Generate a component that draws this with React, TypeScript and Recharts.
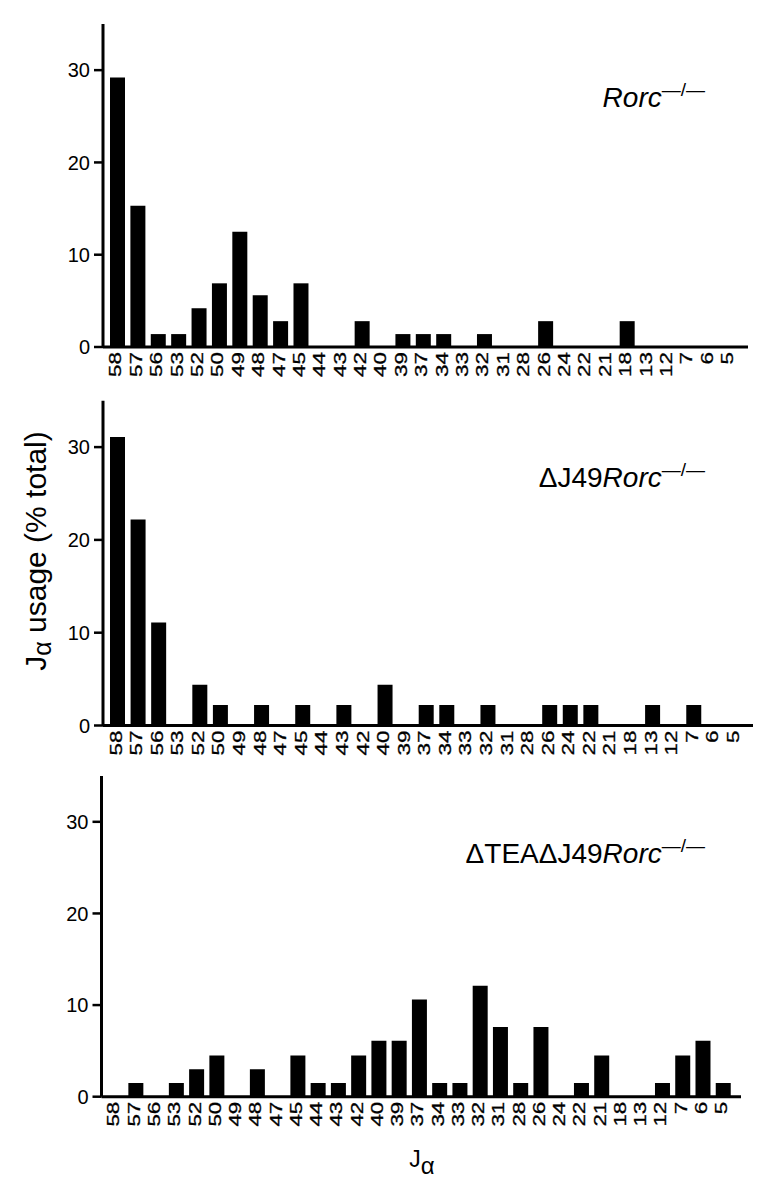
import React from "react";
import { BarChart, Bar, XAxis, YAxis } from "recharts";

const categories = ["58","57","56","53","52","50","49","48","47","45","44","43","42","40","39","37","34","33","32","31","28","26","24","22","21","18","13","12","7","6","5"];

const rorcValues = [29.2,15.3,1.4,1.4,4.2,6.9,12.5,5.6,2.8,6.9,0,0,2.8,0,1.4,1.4,1.4,0,1.4,0,0,2.8,0,0,0,2.8,0,0,0,0,0];
const dJ49Values = [31.1,22.2,11.1,0,4.4,2.2,0,2.2,0,2.2,0,2.2,0,4.4,0,2.2,2.2,0,2.2,0,0,2.2,2.2,2.2,0,0,2.2,0,2.2,0,0];
const dTEAValues = [0,1.5,0,1.5,3.0,4.5,0,3.0,0,4.5,1.5,1.5,4.5,6.1,6.1,10.6,1.5,1.5,12.1,7.6,1.5,7.6,0,1.5,4.5,0,0,1.5,4.5,6.1,1.5];

const yTicks = [0, 10, 20, 30];

const build = (vals: number[]) => categories.map((j, i) => ({ j, v: vals[i] }));

const FONT = "'Liberation Sans', Arial, Helvetica, sans-serif";

const XTick = (props: any) => {
  const { x, y, payload } = props;
  return (
    <text
      transform={`translate(${x - 1.5},${y + 5}) rotate(-90) scale(1.4,1)`}
      textAnchor="end"
      dominantBaseline="central"
      fontFamily={FONT}
      fontSize={16}
      fill="#000"
      stroke="#000"
      strokeWidth={0.3}
    >
      {payload.value}
    </text>
  );
};

type PanelProps = {
  vals: number[];
  top: number;
  height: number;
  marginTop: number;
  xAxisHeight: number;
  yWidth: number;
  marginRight: number;
  padL: number;
  padR: number;
};

const Panel = ({ vals, top, height, marginTop, xAxisHeight, yWidth, marginRight, padL, padR }: PanelProps) => (
  <div style={{ position: "absolute", left: 0, top, width: 784, height }}>
    <BarChart
      width={784}
      height={height}
      data={build(vals)}
      margin={{ top: marginTop, right: marginRight, bottom: 0, left: 0 }}
      barSize={15}
    >
      <XAxis
        dataKey="j"
        type="category"
        interval={0}
        height={xAxisHeight}
        padding={{ left: padL, right: padR }}
        axisLine={{ stroke: "#000", strokeWidth: 3 }}
        tickLine={false}
        tickSize={0}
        tickMargin={0}
        tick={<XTick />}
      />
      <YAxis
        type="number"
        domain={[0, 35]}
        ticks={yTicks}
        width={yWidth}
        allowDataOverflow
        axisLine={{ stroke: "#000", strokeWidth: 3 }}
        tickLine={{ stroke: "#000", strokeWidth: 2.5 }}
        tickSize={9}
        tickMargin={4}
        tick={{ fill: "#000", fontSize: 20, fontFamily: FONT }}
      />
      <Bar dataKey="v" fill="#000" isAnimationActive={false} />
    </BarChart>
  </div>
);

const Sup = () => (
  <tspan dy={-11} fontSize={19} fontStyle="normal">{"\u2014/\u2014"}</tspan>
);

export default function App() {
  return (
    <div style={{ position: "absolute", left: 0, top: 0, width: 784, height: 1190, background: "#fff", fontFamily: FONT }}>
      <Panel vals={rorcValues} top={0} height={390} marginTop={24} xAxisHeight={43} yWidth={103} marginRight={36} padL={4} padR={9} />
      <Panel vals={dJ49Values} top={390} height={380} marginTop={10.7} xAxisHeight={44.5} yWidth={103} marginRight={31} padL={4} padR={8} />
      <Panel vals={dTEAValues} top={770} height={400} marginTop={6} xAxisHeight={73.3} yWidth={101.5} marginRight={43} padL={3.6} padR={8} />
      <svg width={784} height={1190} style={{ position: "absolute", left: 0, top: 0, pointerEvents: "none" }}>
        <text x={705} y={107} textAnchor="end" fontFamily={FONT} fontSize={28} fill="#000">
          <tspan fontStyle="italic">Rorc</tspan>
          <Sup />
        </text>
        <text x={705} y={487} textAnchor="end" fontFamily={FONT} fontSize={28} fill="#000">
          <tspan>{"\u0394J49"}</tspan>
          <tspan fontStyle="italic">Rorc</tspan>
          <Sup />
        </text>
        <text x={705} y={863} textAnchor="end" fontFamily={FONT} fontSize={28} fill="#000">
          <tspan>{"\u0394TEA\u0394J49"}</tspan>
          <tspan fontStyle="italic">Rorc</tspan>
          <Sup />
        </text>
        <text transform="translate(46,551) rotate(-90)" textAnchor="middle" fontFamily={FONT} fontSize={30} fill="#000">
          <tspan>J</tspan>
          <tspan fontSize={25} dy={5}>{"\u03B1"}</tspan>
          <tspan dy={-5}>{" usage (% total)"}</tspan>
        </text>
        <text x={422} y={1167} textAnchor="middle" fontFamily={FONT} fontSize={23} fill="#000">
          <tspan>J</tspan>
          <tspan fontSize={24} dy={7}>{"\u03B1"}</tspan>
        </text>
      </svg>
    </div>
  );
}
